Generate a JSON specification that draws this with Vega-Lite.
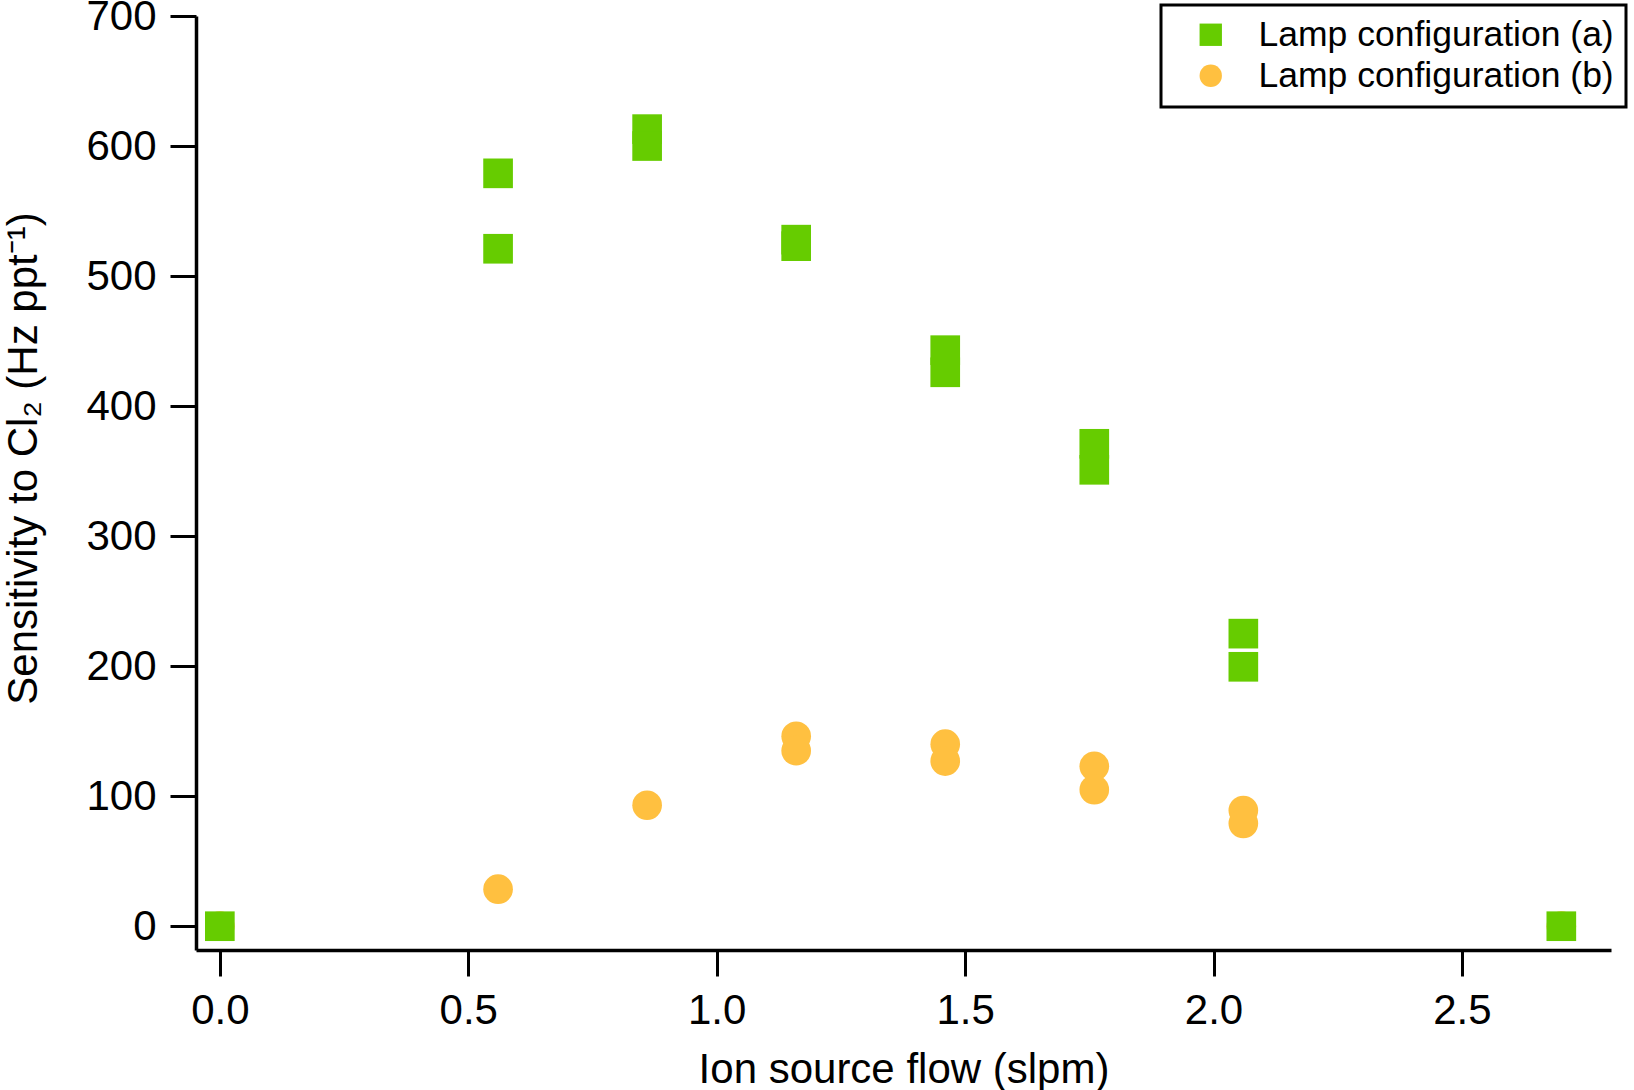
{
  "$schema": "https://vega.github.io/schema/vega-lite/v6.json",
  "description": "Sensitivity to Cl2 versus ion source flow for two lamp configurations.",
  "autosize": "none",
  "padding": {"left": 196, "top": 16, "right": 23, "bottom": 140},
  "width": 1415,
  "height": 934,
  "background": "white",
  "data": {
    "values": [
      {"flow": 0.0, "sens": 0, "config": "Lamp configuration (b)"},
      {"flow": 0.56, "sens": 28.5, "config": "Lamp configuration (b)"},
      {"flow": 0.86, "sens": 93, "config": "Lamp configuration (b)"},
      {"flow": 1.16, "sens": 146, "config": "Lamp configuration (b)"},
      {"flow": 1.16, "sens": 135, "config": "Lamp configuration (b)"},
      {"flow": 1.46, "sens": 140, "config": "Lamp configuration (b)"},
      {"flow": 1.46, "sens": 127, "config": "Lamp configuration (b)"},
      {"flow": 1.76, "sens": 123, "config": "Lamp configuration (b)"},
      {"flow": 1.76, "sens": 105, "config": "Lamp configuration (b)"},
      {"flow": 2.06, "sens": 89, "config": "Lamp configuration (b)"},
      {"flow": 2.06, "sens": 79, "config": "Lamp configuration (b)"},
      {"flow": 2.7, "sens": 0, "config": "Lamp configuration (b)"},
      {"flow": 0.0, "sens": 0, "config": "Lamp configuration (a)"},
      {"flow": 0.56, "sens": 579, "config": "Lamp configuration (a)"},
      {"flow": 0.56, "sens": 521, "config": "Lamp configuration (a)"},
      {"flow": 0.86, "sens": 613, "config": "Lamp configuration (a)"},
      {"flow": 0.86, "sens": 600, "config": "Lamp configuration (a)"},
      {"flow": 1.16, "sens": 528, "config": "Lamp configuration (a)"},
      {"flow": 1.16, "sens": 523, "config": "Lamp configuration (a)"},
      {"flow": 1.46, "sens": 443, "config": "Lamp configuration (a)"},
      {"flow": 1.46, "sens": 426, "config": "Lamp configuration (a)"},
      {"flow": 1.76, "sens": 371, "config": "Lamp configuration (a)"},
      {"flow": 1.76, "sens": 351, "config": "Lamp configuration (a)"},
      {"flow": 2.06, "sens": 225, "config": "Lamp configuration (a)"},
      {"flow": 2.06, "sens": 199.5, "config": "Lamp configuration (a)"},
      {"flow": 2.7, "sens": 0, "config": "Lamp configuration (a)"}
    ]
  },
  "mark": {"type": "point", "filled": true, "opacity": 1, "size": 880, "strokeWidth": 0},
  "encoding": {
    "x": {
      "field": "flow",
      "type": "quantitative",
      "title": "Ion source flow (slpm)",
      "scale": {"domain": [-0.048, 2.8], "nice": false, "zero": false},
      "axis": {"values": [0, 0.5, 1, 1.5, 2, 2.5], "format": ".1f", "labelPadding": 14, "titlePadding": 18}
    },
    "y": {
      "field": "sens",
      "type": "quantitative",
      "title": "Sensitivity to Cl₂ (Hz ppt⁻¹)",
      "scale": {"domain": [-18.3, 700], "nice": false, "zero": false},
      "axis": {"values": [0, 100, 200, 300, 400, 500, 600, 700], "labelPadding": 14, "titlePadding": 40, "titleY": 442}
    },
    "color": {
      "field": "config",
      "type": "nominal",
      "title": null,
      "scale": {"domain": ["Lamp configuration (a)", "Lamp configuration (b)"], "range": ["#66CC00", "#FFC040"]}
    },
    "shape": {
      "field": "config",
      "type": "nominal",
      "title": null,
      "scale": {"domain": ["Lamp configuration (a)", "Lamp configuration (b)"], "range": ["square", "circle"]}
    }
  },
  "config": {
    "view": {"stroke": null},
    "font": "Liberation Sans",
    "axis": {
      "grid": false,
      "domainColor": "black",
      "domainWidth": 3.5,
      "tickColor": "black",
      "tickWidth": 3,
      "tickSize": 26,
      "labelFont": "Liberation Sans",
      "labelFontSize": 42,
      "labelColor": "black",
      "titleFont": "Liberation Sans",
      "titleFontSize": 42,
      "titleFontWeight": "normal",
      "titleColor": "black"
    },
    "legend": {
      "orient": "none",
      "legendX": 965,
      "legendY": -11,
      "strokeColor": "black",
      "strokeWidth": 3,
      "fillColor": "white",
      "padding": 12,
      "symbolSize": 500,
      "symbolStrokeWidth": 0,
      "symbolOffset": 20,
      "labelOffset": 30,
      "rowPadding": 4,
      "labelFont": "Liberation Sans",
      "labelFontSize": 35.5,
      "labelColor": "black",
      "labelLimit": 600
    }
  }
}
